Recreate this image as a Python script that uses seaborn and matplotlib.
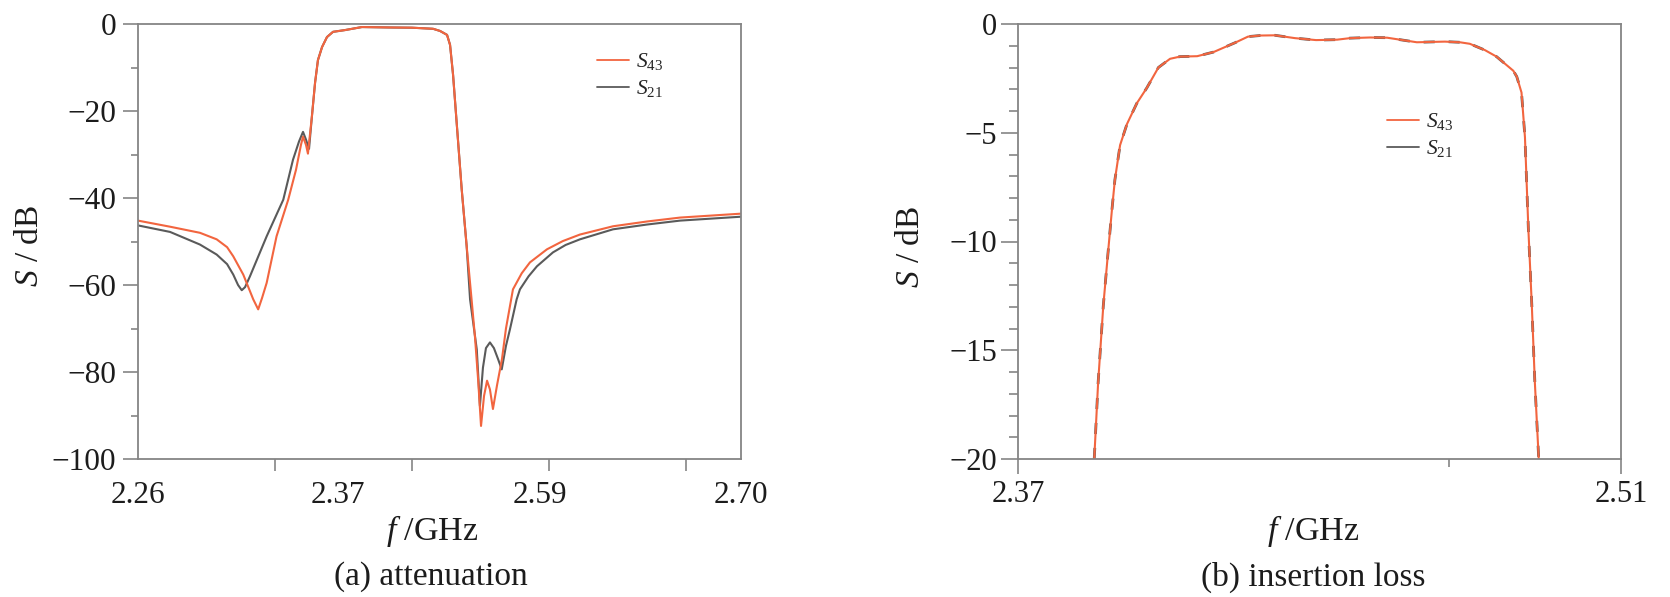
import matplotlib
matplotlib.use("Agg")
import matplotlib.pyplot as plt
import seaborn as sns
import pandas as pd
from matplotlib.lines import Line2D
from matplotlib.ticker import FixedLocator

# ---------------- data ----------------
# (a) attenuation, S43
att_s43_f = [2.2600, 2.2834, 2.3052, 2.3174, 2.3250, 2.3295, 2.3368, 2.3441, 2.3477, 2.3505, 2.3539,
             2.3611, 2.3696, 2.3753, 2.3789, 2.3804, 2.3826, 2.3840, 2.3870, 2.3892, 2.3913,
             2.3943, 2.3979, 2.4023, 2.4110, 2.4234, 2.4439, 2.4599, 2.4753, 2.4804, 2.4855,
             2.4877, 2.4899, 2.4926, 2.4962, 2.4998, 2.5034, 2.5059, 2.5083, 2.5103, 2.5125,
             2.5147, 2.5168, 2.5190, 2.5220, 2.5256, 2.5285, 2.5336, 2.5400, 2.5460, 2.5584, 2.5700,
             2.5825, 2.6066, 2.6314, 2.6555, 2.7000]
att_s43_db = [-45.2, -46.6, -48.0, -49.5, -51.3, -53.4, -57.6, -63.3, -65.6, -63.0, -59.5,
              -48.8, -40.4, -33.5, -27.8, -25.9, -27.8, -29.8, -20.9, -13.5, -8.3,
              -5.3, -3.0, -1.8, -1.4, -0.7, -0.8, -0.85, -1.1, -1.6, -2.5,
              -4.8, -11.7, -23.0, -38.0, -51.0, -63.3, -72.0, -82.3, -92.4, -85.5,
              -82.0, -84.0, -88.5, -83.0, -77.0, -70.0, -61.0, -57.3, -54.8, -51.8, -49.9,
              -48.4, -46.5, -45.4, -44.5, -43.6]

# (a) attenuation, S21
att_s21_f = [2.2600, 2.2834, 2.3052, 2.3174, 2.3250, 2.3295, 2.3330, 2.3357, 2.3381, 2.3417, 2.3539,
             2.3660, 2.3731, 2.3775, 2.3804, 2.3826, 2.3848, 2.3870, 2.3892, 2.3913, 2.3943,
             2.3979, 2.4023, 2.4110, 2.4234, 2.4439, 2.4599, 2.4753, 2.4804, 2.4855, 2.4877,
             2.4899, 2.4926, 2.4962, 2.4998, 2.5023, 2.5072, 2.5095, 2.5117, 2.5139, 2.5168,
             2.5197, 2.5227, 2.5254, 2.5285, 2.5314, 2.5363, 2.5387, 2.5450, 2.5511, 2.5628, 2.5720,
             2.5825, 2.6066, 2.6314, 2.6555, 2.7000]
att_s21_db = [-46.3, -47.8, -50.7, -53.0, -55.2, -57.6, -60.0, -61.2, -60.5, -58.0, -48.8,
              -40.4, -31.2, -27.0, -24.8, -26.6, -28.7, -20.9, -13.5, -8.3, -5.3,
              -3.0, -1.8, -1.4, -0.7, -0.8, -0.85, -1.1, -1.6, -2.5, -4.8,
              -11.7, -23.0, -38.0, -51.0, -63.3, -74.8, -87.8, -79.0, -74.5, -73.2,
              -74.5, -77.0, -79.4, -74.0, -70.2, -63.3, -61.0, -58.0, -55.7, -52.5, -50.8,
              -49.5, -47.2, -46.1, -45.2, -44.3]

# (b) insertion loss (S43 and S21 coincide)
il_f = [2.3877, 2.3886, 2.3898, 2.3910, 2.3918, 2.3925, 2.3937, 2.3953, 2.3976, 2.3999,
        2.4026, 2.4053, 2.4076, 2.4116, 2.4154, 2.4204, 2.4234, 2.4262, 2.4297, 2.4343,
        2.4392, 2.4441, 2.4471, 2.4517, 2.4557, 2.4626, 2.4691, 2.4726, 2.4749, 2.4784,
        2.4811, 2.4850, 2.4858, 2.4869, 2.4877, 2.4885, 2.4893, 2.4900, 2.4909]
il_s43_db = [-20.0, -16.5, -12.96, -10.3, -8.56, -7.16, -5.57, -4.6, -3.64, -2.94,
             -2.0, -1.6, -1.5, -1.48, -1.29, -0.86, -0.58, -0.53, -0.52, -0.65,
             -0.74, -0.72, -0.65, -0.62, -0.63, -0.84, -0.81, -0.84, -0.91, -1.2,
             -1.5, -2.15, -2.42, -3.15, -5.2, -9.45, -12.96, -16.48, -20.0]
il_s21_db = [-20.0, -16.5, -12.96, -10.3, -8.56, -7.16, -5.57, -4.6, -3.64, -2.94,
             -2.0, -1.6, -1.5, -1.48, -1.29, -0.86, -0.58, -0.53, -0.52, -0.65,
             -0.74, -0.72, -0.65, -0.62, -0.63, -0.84, -0.81, -0.84, -0.91, -1.2,
             -1.5, -2.15, -2.42, -3.15, -5.2, -9.45, -12.96, -16.48, -20.0]

series_labels = ["$S_{43}$", "$S_{21}$"]

a_xtick_pos = [2.26, 2.406, 2.553, 2.70]
a_xtick_labels = ["2.26", "2.37", "2.59", "2.70"]
a_xminor = [2.26, 2.36, 2.46, 2.56, 2.66, 2.70]
a_yticks = [0, -20, -40, -60, -80, -100]
a_yminor = [-10, -30, -50, -70, -90]

b_xticks = [2.37, 2.51]
b_xminor = [2.47]
b_yticks = [0, -5, -10, -15, -20]
b_yminor = [v for v in range(-1, -20, -1) if v % 5 != 0]

# ---------------- style ----------------
sns.set_style("white")
plt.rcParams["font.family"] = ["Liberation Serif", "DejaVu Serif"]
plt.rcParams["mathtext.fontset"] = "custom"
plt.rcParams["mathtext.rm"] = "Liberation Serif"
plt.rcParams["mathtext.it"] = "Liberation Serif:italic"
plt.rcParams["axes.unicode_minus"] = True

ORANGE = "#F2653F"
GRAY = "#5A5A5A"
SPINE = "#858585"
TXT = "#1c1c1c"

W, H = 1670, 597
fig = plt.figure(figsize=(W / 100, H / 100), dpi=100)
ax1 = fig.add_axes([138 / W, 1 - 459 / H, 603 / W, 435 / H])
ax2 = fig.add_axes([1018 / W, 1 - 459 / H, 603 / W, 435 / H])

df_a = pd.concat([
    pd.DataFrame({"f": att_s21_f, "S": att_s21_db, "trace": "S21"}),
    pd.DataFrame({"f": att_s43_f, "S": att_s43_db, "trace": "S43"}),
], ignore_index=True)
sns.lineplot(data=df_a, x="f", y="S", hue="trace", hue_order=["S21", "S43"],
             palette={"S43": ORANGE, "S21": GRAY}, sort=False, estimator=None,
             linewidth=1.5, legend=False, ax=ax1)

sns.lineplot(x=il_f, y=il_s21_db, color=GRAY, linewidth=2.0, linestyle=(0, (4, 5)),
             sort=False, estimator=None, legend=False, ax=ax2)
sns.lineplot(x=il_f, y=il_s43_db, color=ORANGE, linewidth=1.5,
             sort=False, estimator=None, legend=False, ax=ax2)

for ax in (ax1, ax2):
    for s in ax.spines.values():
        s.set_visible(True)
        s.set_color(SPINE)
        s.set_linewidth(1.3)
    ax.set_xlabel("")
    ax.set_ylabel("")
    ax.tick_params(which="both", direction="out", color=SPINE, width=1.2,
                   labelcolor=TXT, labelsize=22.5, top=False, right=False,
                   bottom=True, left=True)

# left axes ticks
ax1.set_xlim(2.26, 2.70)
ax1.set_ylim(-100, 0)
ax1.set_xticks(a_xtick_pos)
ax1.set_xticklabels(a_xtick_labels)
ax1.xaxis.set_minor_locator(FixedLocator(a_xminor))
ax1.set_yticks(a_yticks)
ax1.yaxis.set_minor_locator(FixedLocator(a_yminor))
ax1.tick_params(axis="x", which="major", length=0, pad=16)
ax1.tick_params(axis="x", which="minor", length=8.6)
ax1.tick_params(axis="y", which="major", length=10.8, pad=5)
ax1.tick_params(axis="y", which="minor", length=5)

# right axes ticks
ax2.set_xlim(2.37, 2.51)
ax2.set_ylim(-20, 0)
ax2.set_xticks(b_xticks)
ax2.set_xticklabels(["2.37", "2.51"])
ax2.xaxis.set_minor_locator(FixedLocator(b_xminor))
ax2.set_yticks(b_yticks)
ax2.yaxis.set_minor_locator(FixedLocator(b_yminor))
ax2.tick_params(axis="x", which="major", length=10.8, pad=4, labelsize=22)
ax2.tick_params(axis="x", which="minor", length=6)
ax2.tick_params(axis="y", which="major", length=12, pad=3, labelsize=22)
ax2.tick_params(axis="y", which="minor", length=6.5)

# legends
handles = [Line2D([], [], color=ORANGE, lw=1.3), Line2D([], [], color=GRAY, lw=1.3)]
leg_kw = dict(loc="upper left", frameon=False, fontsize=15.5, handlelength=1.5,
              handletextpad=0.3, labelspacing=0.28, borderpad=0, borderaxespad=0)
ax1.legend(handles, series_labels, bbox_to_anchor=(0.761, 0.937), **leg_kw)
ax2.legend(handles, series_labels, bbox_to_anchor=(0.612, 0.799), **leg_kw)

# axis labels and captions
fig.text(30 / W, 1 - 246 / H, "$S$ / dB", rotation=90, ha="center", va="center",
         fontsize=24, color=TXT)
fig.text(911 / W, 1 - 247 / H, "$S$ / dB", rotation=90, ha="center", va="center",
         fontsize=24, color=TXT)
fig.text(432 / W, 1 - 531 / H, "$f$ /GHz", ha="center", va="center", fontsize=24.5, color=TXT)
fig.text(1313 / W, 1 - 531 / H, "$f$ /GHz", ha="center", va="center", fontsize=24.5, color=TXT)
fig.text(431 / W, 1 - 577 / H, "(a) attenuation", ha="center", va="center",
         fontsize=24, color=TXT)
fig.text(1313 / W, 1 - 577 / H, "(b) insertion loss", ha="center", va="center",
         fontsize=24, color=TXT)

fig.savefig("out.png", dpi=100, facecolor="white")
